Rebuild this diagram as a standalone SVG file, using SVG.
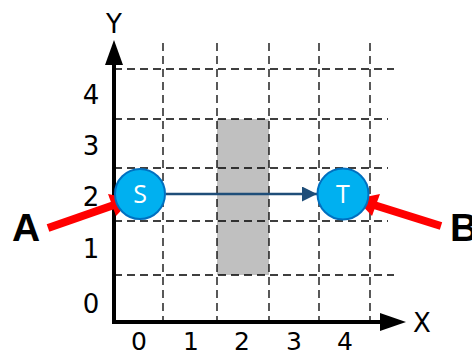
<svg xmlns="http://www.w3.org/2000/svg" width="472" height="356" viewBox="0 0 472 356">
<style>
.grid{stroke:#000;stroke-width:1.3;stroke-dasharray:8,5;fill:none}
.axis{stroke:#000;stroke-width:4;fill:none}
.num{font-family:"DejaVu Sans",sans-serif;font-size:26px;fill:#000;text-anchor:middle}
.xn{font-size:25px}
.node circle{fill:#00B0F0;stroke:#0070C0;stroke-width:2}
.node text{font-family:"Open Sans","DejaVu Sans",sans-serif;font-size:25px;fill:#fff;text-anchor:middle}
.lbl{font-family:"Liberation Sans",Arial,sans-serif;font-weight:bold;font-size:39px;fill:#000}
.red{stroke:#FF0000;stroke-width:8;fill:none}
</style>
<defs>
<marker id="ah" viewBox="0 0 10 10" refX="10" refY="5" markerWidth="7" markerHeight="6" markerUnits="strokeWidth" orient="auto"><path d="M0,0L10,5L0,10z" fill="#1F4E79"/></marker>
</defs>
<rect x="217" y="119" width="52" height="156" fill="#C0C0C0"/>
<g id="grid">
<line class="grid" x1="114" y1="69" x2="394" y2="69"/>
<line class="grid" x1="114" y1="119" x2="388" y2="119"/>
<line class="grid" x1="114" y1="168" x2="388" y2="168"/>
<line class="grid" x1="114" y1="221" x2="388" y2="221"/>
<line class="grid" x1="114" y1="275" x2="394" y2="275"/>
<line class="grid" x1="163" y1="43" x2="163" y2="322"/>
<line class="grid" x1="217" y1="43" x2="217" y2="322"/>
<line class="grid" x1="269" y1="43" x2="269" y2="322"/>
<line class="grid" x1="319" y1="43" x2="319" y2="322"/>
<line class="grid" x1="370" y1="43" x2="370" y2="322"/>
</g>
<g id="axes">
<polyline class="axis" points="114,62 114,322 382,322"/>
<path d="M114,40L123,65L105,65z" fill="#000"/>
<path d="M406,322L380,313L380,331z" fill="#000"/>
<text class="num" x="114" y="33">Y</text>
<text class="num" x="422" y="332">X</text>
<text class="num" x="91" y="104">4</text>
<text class="num" x="91" y="155">3</text>
<text class="num" x="91" y="206">2</text>
<text class="num" x="91" y="258">1</text>
<text class="num" x="91" y="313">0</text>
<text class="num xn" x="139" y="350">0</text>
<text class="num xn" x="191" y="350">1</text>
<text class="num xn" x="242" y="350">2</text>
<text class="num xn" x="294" y="350">3</text>
<text class="num xn" x="345" y="350">4</text>
</g>
<g id="connectors">
<line x1="166" y1="194" x2="317" y2="194" stroke="#1F4E79" stroke-width="2.5" marker-end="url(#ah)"/>
<line class="red" x1="48" y1="228" x2="114" y2="205"/>
<path d="M132,199L108,194L116,216z" fill="#FF0000"/>
<line class="red" x1="441" y1="226" x2="374" y2="205"/>
<path d="M356,199L380,194L372,216z" fill="#FF0000"/>
</g>
<g id="S" class="node"><circle cx="140" cy="194" r="25"/><text x="140" y="203">S</text></g>
<g id="T" class="node"><circle cx="343" cy="194" r="25.5"/><text x="343" y="203">T</text></g>
<g id="A"><text class="lbl" x="12" y="241">A</text></g>
<g id="B"><text class="lbl" x="450" y="241">B</text></g>
</svg>
